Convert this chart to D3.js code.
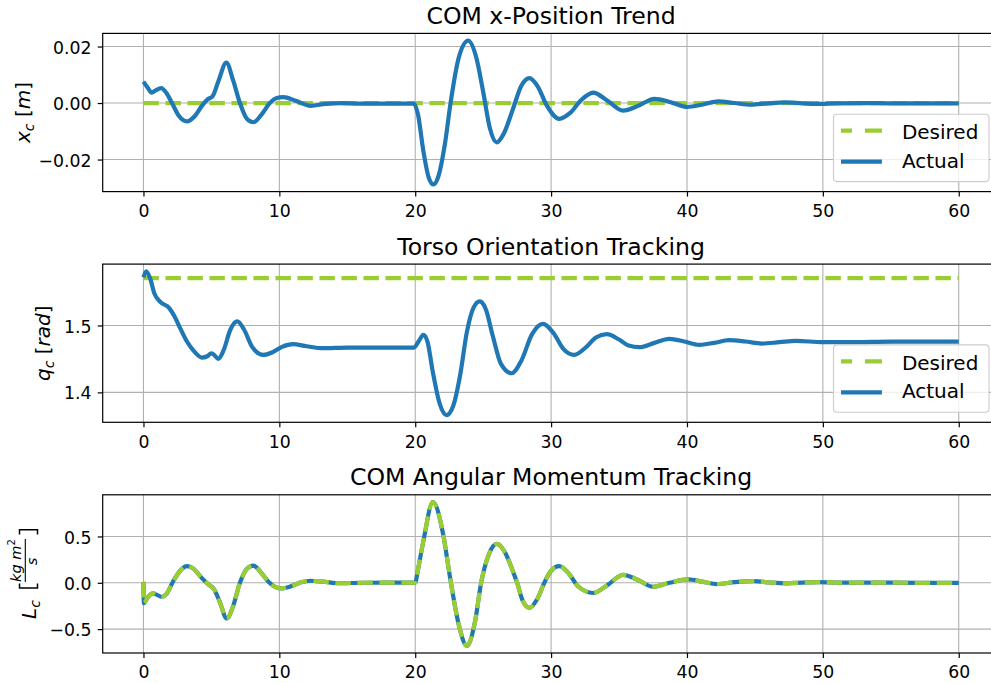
<!DOCTYPE html>
<html>
<head>
<meta charset="utf-8">
<script src="https://cdn.jsdelivr.net/npm/d3@7"></script>
<style>
  body { margin: 0; background: #fff; }
  svg { display: block; font-family: "DejaVu Sans", sans-serif; }
</style>
</head>
<body>
<svg id="fig" width="991" height="683"></svg>
<script>
// ---- COM x-position (m) ----
const xcTime = [0, 0.3, 0.6, 0.9, 1.3, 1.7, 2.1, 2.6, 3.2, 3.8, 4.3, 4.7, 5.1, 5.5, 6.1, 6.6, 7.1, 7.6, 8.1,
  8.7, 9.3, 9.8, 10.3, 11.2, 12.3, 13.4, 14.5, 16, 18, 19.9, 20.2, 20.6, 21.0, 21.35, 21.7, 22.2, 22.6,
  23.2, 23.9, 24.5, 25.0, 25.5, 26.0, 26.5, 27.2, 27.8, 28.4, 29.0, 29.7, 30.6, 31.4, 32.2, 33.1, 34.1,
  35.3, 36.4, 37.6, 38.8, 40.0, 41.2, 42.3, 43.5, 44.7, 46.0, 47.2, 48.5, 49.5, 51, 53, 55, 57, 60];
const xcActual = [0.0076, 0.0055, 0.0037, 0.0045, 0.0053, 0.0035, 0.0000, -0.0045, -0.0065, -0.0045,
  -0.0010, 0.0012, 0.0025, 0.0075, 0.0143, 0.0080, 0.0000, -0.0055, -0.0068, -0.0040, 0.0000, 0.0018,
  0.0021, 0.0008, -0.0010, -0.0003, 0.0000, -0.0002, -0.0002, -0.0002, -0.0040, -0.0170, -0.0265,
  -0.0288, -0.0260, -0.0140, 0.0000, 0.0160, 0.0221, 0.0160, 0.0040, -0.0090, -0.0139, -0.0110,
  -0.0020, 0.0060, 0.0088, 0.0060, -0.0010, -0.0056, -0.0035, 0.0010, 0.0037, 0.0010, -0.0027,
  -0.0010, 0.0015, 0.0003, -0.0014, -0.0005, 0.0006, 0.0000, -0.0006, -0.0001, 0.0002, -0.0001,
  -0.0003, -0.0001, 0.0000, -0.0001, -0.0001, -0.0001];
const desiredTime = [0, 60];
const xcDesired = [0, 0];

// ---- torso orientation (rad) ----
const qcTime = [0, 0.2, 0.5, 0.8, 1.2, 1.9, 2.3, 2.7, 3.2, 3.7, 4.3, 4.7, 5.0, 5.25, 5.5, 5.9, 6.4, 6.9,
  7.4, 8.0, 8.8, 9.5, 10.2, 11.0, 12.0, 13.2, 15, 17, 19.9, 20.3, 20.6, 20.9, 21.3, 21.8, 22.3, 22.8,
  23.3, 23.8, 24.3, 24.75, 25.2, 25.7, 26.3, 27.1, 27.8, 28.6, 29.4, 30.2, 30.9, 31.7, 32.6, 33.3,
  34.1, 35.0, 35.7, 36.5, 37.6, 38.7, 39.8, 40.9, 42.0, 43.1, 44.3, 45.5, 46.8, 48.0, 50, 52, 55, 60];
const qcActual = [1.572, 1.581, 1.570, 1.548, 1.536, 1.526, 1.513, 1.496, 1.476, 1.462, 1.452, 1.454,
  1.4585, 1.455, 1.450, 1.463, 1.494, 1.506, 1.494, 1.468, 1.456, 1.460, 1.468, 1.472, 1.469, 1.466,
  1.467, 1.467, 1.467, 1.478, 1.486, 1.476, 1.430, 1.383, 1.366, 1.380, 1.425, 1.490, 1.527, 1.536,
  1.524, 1.485, 1.443, 1.4286, 1.447, 1.487, 1.5025, 1.488, 1.465, 1.456, 1.468, 1.482, 1.487, 1.479,
  1.470, 1.4675, 1.474, 1.480, 1.476, 1.471, 1.474, 1.478, 1.476, 1.473, 1.475, 1.477, 1.475, 1.475,
  1.476, 1.476];
const qcDesired = [1.5708, 1.5708];

// ---- COM angular momentum (kg m^2/s) ----
const lcTime = [0, 0.03, 0.3, 0.7, 1.0, 1.35, 1.7, 2.2, 2.7, 3.2, 3.7, 4.3, 4.8, 5.2, 5.6, 6.13, 6.6, 7.1,
  7.6, 8.09, 8.6, 9.2, 9.7, 10.2, 10.9, 11.6, 12.3, 13.2, 14.5, 16, 18, 20.0, 20.2, 20.6, 21.3, 22.06,
  22.55, 23.2, 23.8, 24.4, 24.85, 25.4, 26.0, 26.6, 27.2, 27.5, 27.9, 28.4, 29.0, 29.5, 30.0, 30.6,
  31.3, 32.0, 33.1, 34.1, 35.3, 36.4, 37.5, 38.7, 40.1, 41.2, 42.2, 43.5, 44.9, 46.1, 47.3, 48.5, 49.7,
  51.5, 54, 57, 60];
const lcDesired = [0.01, -0.22, -0.16, -0.115, -0.13, -0.152, -0.12, 0.02, 0.13, 0.18, 0.15, 0.05,
  -0.02, -0.07, -0.2, -0.385, -0.25, 0.0, 0.15, 0.185, 0.12, 0.01, -0.045, -0.06, -0.035, 0.005, 0.022,
  0.012, -0.005, 0.0, 0.002, 0.002, 0.14, 0.45, 0.872, 0.52, 0.07, -0.45, -0.68, -0.42, 0.0, 0.3, 0.42,
  0.33, 0.12, 0.0, -0.19, -0.27, -0.17, 0.0, 0.13, 0.18, 0.1, -0.04, -0.11, -0.03, 0.085, 0.03, -0.043,
  0.0, 0.037, 0.01, -0.014, 0.008, 0.018, 0.003, -0.006, 0.002, 0.008, 0.001, 0.002, 0.0, 0.0];
const lcActual = lcDesired.slice();

// ---- ticks ----
const xTicks = [0, 10, 20, 30, 40, 50, 60];
const xTickLabels = ["0", "10", "20", "30", "40", "50", "60"];
const xcTicks = [-0.02, 0, 0.02];
const xcTickLabels = ["\u22120.02", "0.00", "0.02"];
const qcTicks = [1.4, 1.5];
const qcTickLabels = ["1.4", "1.5"];
const lcTicks = [-0.5, 0, 0.5];
const lcTickLabels = ["\u22120.5", "0.0", "0.5"];

const titles = ["COM x-Position Trend", "Torso Orientation Tracking", "COM Angular Momentum Tracking"];
const legendNames = ["Desired", "Actual"];

const BLUE = "#1f77b4", GREEN = "#9acd32";
const svg = d3.select("#fig");
svg.append("rect").attr("width", 991).attr("height", 683).attr("fill", "#fff");

const axLeft = 102.7, axRight = 999.5, axH = 158.2;
const x = d3.scaleLinear().domain([-3, 63]).range([axLeft, axRight]);

const zip = (t, v) => t.map((d, i) => [d, v[i]]);

function drawPanel(idx, top, series, yTicks, yLabels, legend) {
  const bottom = top + axH;
  const all = series.flatMap(s => s.v);
  const [lo, hi] = d3.extent(all);
  const pad = (hi - lo) * 0.05;
  const y = d3.scaleLinear().domain([lo - pad, hi + pad]).range([bottom, top]);

  const g = svg.append("g");
  const clipId = "clip" + idx;
  g.append("clipPath").attr("id", clipId).append("rect")
    .attr("x", axLeft).attr("y", top).attr("width", axRight - axLeft).attr("height", axH);

  // grid
  const grid = g.append("g").attr("stroke", "#b0b0b0").attr("stroke-width", 1.1);
  xTicks.forEach(t => grid.append("line").attr("x1", x(t)).attr("x2", x(t)).attr("y1", top).attr("y2", bottom));
  yTicks.forEach(t => grid.append("line").attr("x1", axLeft).attr("x2", axRight).attr("y1", y(t)).attr("y2", y(t)));

  // lines
  const line = d3.line().x(d => x(d[0])).y(d => y(d[1])).curve(d3.curveMonotoneX);
  const lines = g.append("g").attr("clip-path", `url(#${clipId})`);
  series.forEach(s => {
    lines.append("path").attr("d", line(zip(s.t, s.v)))
      .attr("fill", "none").attr("stroke", s.color).attr("stroke-width", 4.2)
      .attr("stroke-dasharray", s.dash ? "15.4,6.6" : null);
  });

  // axes
  const xAxis = d3.axisBottom(x).tickValues(xTicks).tickFormat((d, i) => xTickLabels[i])
    .tickSize(5).tickPadding(8.2);
  const gx = g.append("g").attr("transform", `translate(0,${bottom})`).call(xAxis);
  const yAxis = d3.axisLeft(y).tickValues(yTicks).tickFormat((d, i) => yLabels[i])
    .tickSize(5).tickPadding(6.2);
  const gy = g.append("g").attr("transform", `translate(${axLeft},0)`).call(yAxis);
  [gx, gy].forEach(a => {
    a.select(".domain").remove();
    a.selectAll("line").attr("stroke", "#000").attr("stroke-width", 1.2);
    a.selectAll("text").attr("fill", "#000").style("font-size", "17.3px")
      .style("font-family", "'DejaVu Sans', sans-serif");
  });
  gy.selectAll("text").attr("dy", "0.38em");

  // spines
  g.append("rect").attr("x", axLeft).attr("y", top).attr("width", axRight - axLeft).attr("height", axH)
    .attr("fill", "none").attr("stroke", "#000").attr("stroke-width", 1.2);

  // title
  g.append("text").attr("x", (axLeft + axRight) / 2).attr("y", top - 9.4)
    .attr("text-anchor", "middle").style("font-size", "23.6px").attr("fill", "#000").text(titles[idx]);

  if (legend) {
    const bw = 155.5, bh = 67.4;
    const bx = axRight - 10.5 - bw, by = bottom - 10 - bh;
    const lg = g.append("g");
    lg.append("rect").attr("x", bx).attr("y", by).attr("width", bw).attr("height", bh).attr("rx", 3.5)
      .attr("fill", "#fff").attr("fill-opacity", 0.8).attr("stroke", "#cccccc").attr("stroke-width", 1.1);
    const rows = [{c: GREEN, dash: true, yl: 16.4, yt: 25}, {c: BLUE, dash: false, yl: 47.4, yt: 53.4}];
    rows.forEach((r, i) => {
      lg.append("line").attr("x1", bx + 7.5).attr("x2", bx + 48.4).attr("y1", by + r.yl).attr("y2", by + r.yl)
        .attr("stroke", r.c).attr("stroke-width", 4.2).attr("stroke-dasharray", r.dash ? "11,13,17,20" : null);
      lg.append("text").attr("x", bx + 68.4).attr("y", by + r.yt).style("font-size", "20px")
        .attr("fill", "#000").text(legendNames[i]);
    });
  }
  return {top, bottom};
}

const tops = [33.4, 264.1, 494.8];

const p1 = drawPanel(0, tops[0], [
  {t: desiredTime, v: xcDesired, color: GREEN, dash: true},
  {t: xcTime, v: xcActual, color: BLUE, dash: false}
], xcTicks, xcTickLabels, true);

const p2 = drawPanel(1, tops[1], [
  {t: desiredTime, v: qcDesired, color: GREEN, dash: true},
  {t: qcTime, v: qcActual, color: BLUE, dash: false}
], qcTicks, qcTickLabels, true);

const p3 = drawPanel(2, tops[2], [
  {t: lcTime, v: lcActual, color: BLUE, dash: false},
  {t: lcTime, v: lcDesired, color: GREEN, dash: true}
], lcTicks, lcTickLabels, false);

// ---- y-axis labels (math style) ----
function simpleLabel(cx, cy, base, sub, unit) {
  const t = svg.append("text").attr("transform", `translate(${cx},${cy}) rotate(-90)`)
    .attr("text-anchor", "middle").style("font-size", "20px").attr("fill", "#000");
  t.append("tspan").style("font-style", "italic").text(base);
  t.append("tspan").style("font-style", "italic").style("font-size", "14px").attr("dy", 4).text(sub);
  t.append("tspan").attr("dy", -4).text(" [");
  t.append("tspan").style("font-style", "italic").text(unit);
  t.append("tspan").text("]");
}
simpleLabel(29.5, (p1.top + p1.bottom) / 2, "x", "c", "m");
simpleLabel(50, (p2.top + p2.bottom) / 2, "q", "c", "rad");

// angular momentum label with a fraction unit
(function () {
  const cy = (p3.top + p3.bottom) / 2;
  const g = svg.append("g").attr("transform", `translate(0,${cy}) rotate(-90)`).attr("fill", "#000");
  const lt = g.append("text").attr("x", -45).attr("y", 36).style("font-size", "20px");
  lt.append("tspan").style("font-style", "italic").text("L");
  lt.append("tspan").style("font-style", "italic").style("font-size", "14px").attr("dy", 4).text("c");
  // brackets
  g.append("path").attr("d", "M-9.5,19.5 H-14.2 V37.5 H-9.5").attr("fill", "none").attr("stroke", "#000").attr("stroke-width", 1.5);
  g.append("path").attr("d", "M39.5,19.5 H44.2 V37.5 H39.5").attr("fill", "none").attr("stroke", "#000").attr("stroke-width", 1.5);
  // numerator
  const num = g.append("text").attr("x", -8).attr("y", 20.5).style("font-size", "14.5px");
  num.append("tspan").style("font-style", "italic").text("kg m");
  num.append("tspan").style("font-size", "10px").attr("dy", -6).text("2");
  // fraction bar
  g.append("line").attr("x1", -8).attr("x2", 35).attr("y1", 25.3).attr("y2", 25.3).attr("stroke", "#000").attr("stroke-width", 1.1);
  // denominator
  g.append("text").attr("x", 12.5).attr("y", 37).attr("text-anchor", "middle").style("font-size", "14.5px")
    .style("font-style", "italic").text("s");
})();
</script>
</body>
</html>
